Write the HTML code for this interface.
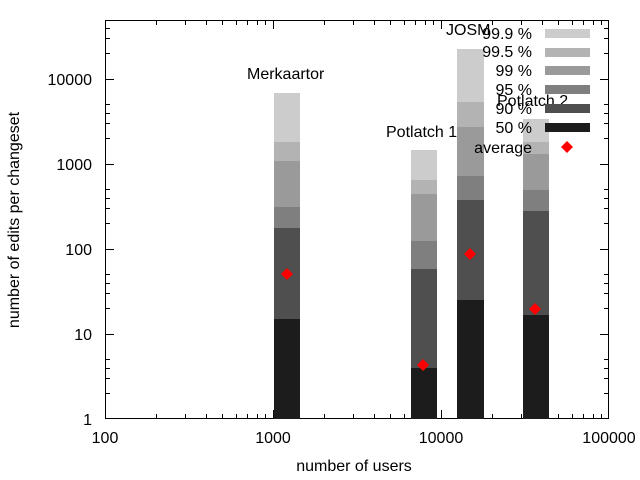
<!DOCTYPE html>
<html><head><style>body{margin:0;background:#fff}svg{display:block}text{font-family:"Liberation Sans",sans-serif;font-size:16px;fill:#000}</style></head><body>
<svg width="640" height="480" viewBox="0 0 640 480">
<g stroke="#000" stroke-width="1" fill="none">
<rect x="105.5" y="20.5" width="503" height="398"/>
<path d="M105 334.5h9M609 334.5h-9M105 249.5h9M609 249.5h-9M105 164.5h9M609 164.5h-9M105 79.5h9M609 79.5h-9
M105 393.5h5M105 378.5h5M105 368.5h5M105 359.5h5M105 308.5h5M105 293.5h5M105 283.5h5M105 274.5h5M105 223.5h5M105 208.5h5M105 198.5h5M105 189.5h5M105 138.5h5M105 123.5h5M105 113.5h5M105 104.5h5M105 53.5h5M105 38.5h5M105 28.5h5
M609 393.5h-5M609 378.5h-5M609 368.5h-5M609 359.5h-5M609 308.5h-5M609 293.5h-5M609 283.5h-5M609 274.5h-5M609 223.5h-5M609 208.5h-5M609 198.5h-5M609 189.5h-5M609 138.5h-5M609 123.5h-5M609 113.5h-5M609 104.5h-5M609 53.5h-5M609 38.5h-5M609 28.5h-5
M273.5 419v-9M273.5 20v9M441.5 419v-9M441.5 20v9
M156.5 419v-5M185.5 419v-5M206.5 419v-5M222.5 419v-5M236.5 419v-5M247.5 419v-5M257.5 419v-5M265.5 419v-5
M324.5 419v-5M353.5 419v-5M374.5 419v-5M390.5 419v-5M404.5 419v-5M415.5 419v-5M425.5 419v-5M433.5 419v-5
M492.5 419v-5M521.5 419v-5M542.5 419v-5M558.5 419v-5M572.5 419v-5M583.5 419v-5M593.5 419v-5M601.5 419v-5
M156.5 20v5M185.5 20v5M206.5 20v5M222.5 20v5M236.5 20v5M247.5 20v5M257.5 20v5M265.5 20v5
M324.5 20v5M353.5 20v5M374.5 20v5M390.5 20v5M404.5 20v5M415.5 20v5M425.5 20v5M433.5 20v5
M492.5 20v5M521.5 20v5M542.5 20v5M558.5 20v5M572.5 20v5M583.5 20v5M593.5 20v5M601.5 20v5"/>
</g>
<g text-anchor="end">
<text x="92" y="425">1</text><text x="92" y="340">10</text><text x="92" y="255">100</text><text x="92" y="170">1000</text><text x="92" y="85">10000</text>
</g>
<g text-anchor="middle">
<text x="105" y="443">100</text><text x="273" y="443">1000</text><text x="441" y="443">10000</text><text x="609" y="443">100000</text>
<text x="354" y="471">number of users</text>
</g>
<text transform="translate(19,220) rotate(-90)" text-anchor="middle">number of edits per changeset</text>
<g>
<rect x="274" y="93" width="26" height="49" fill="#ccc"/><rect x="274" y="142" width="26" height="19" fill="#b3b3b3"/><rect x="274" y="161" width="26" height="46" fill="#9a9a9a"/><rect x="274" y="207" width="26" height="21" fill="#7f7f7f"/><rect x="274" y="228" width="26" height="91" fill="#4f4f4f"/><rect x="274" y="319" width="26" height="100" fill="#1c1c1c"/>
<rect x="411" y="150" width="26" height="30" fill="#ccc"/><rect x="411" y="180" width="26" height="14" fill="#b3b3b3"/><rect x="411" y="194" width="26" height="47" fill="#9a9a9a"/><rect x="411" y="241" width="26" height="28" fill="#7f7f7f"/><rect x="411" y="269" width="26" height="99" fill="#4f4f4f"/><rect x="411" y="368" width="26" height="51" fill="#1c1c1c"/>
<rect x="457" y="49" width="27" height="53" fill="#ccc"/><rect x="457" y="102" width="27" height="25" fill="#b3b3b3"/><rect x="457" y="127" width="27" height="49" fill="#9a9a9a"/><rect x="457" y="176" width="27" height="24" fill="#7f7f7f"/><rect x="457" y="200" width="27" height="100" fill="#4f4f4f"/><rect x="457" y="300" width="27" height="119" fill="#1c1c1c"/>
<rect x="523" y="119" width="26" height="23" fill="#ccc"/><rect x="523" y="142" width="26" height="12" fill="#b3b3b3"/><rect x="523" y="154" width="26" height="36" fill="#9a9a9a"/><rect x="523" y="190" width="26" height="21" fill="#7f7f7f"/><rect x="523" y="211" width="26" height="104" fill="#4f4f4f"/><rect x="523" y="315" width="26" height="104" fill="#1c1c1c"/>
</g>
<g fill="#f00">
<path d="M287 268l6 6-6 6-6-6z"/><path d="M423 359l6 6-6 6-6-6z"/><path d="M470 248l6 6-6 6-6-6z"/><path d="M535 303l6 6-6 6-6-6z"/>
</g>
<text x="247" y="79">Merkaartor</text>
<text x="386" y="137">Potlatch 1</text>
<text x="446" y="35">JOSM</text>
<text x="497" y="106">Potlatch 2</text>
<g text-anchor="end">
<text x="532" y="39">99.9 %</text><text x="532" y="57">99.5 %</text><text x="532" y="76">99 %</text><text x="532" y="95">95 %</text><text x="532" y="114">90 %</text><text x="532" y="133">50 %</text><text x="532" y="153">average</text>
</g>
<rect x="545" y="29" width="45" height="9" fill="#ccc"/><rect x="545" y="48" width="45" height="9" fill="#b3b3b3"/><rect x="545" y="66" width="45" height="9" fill="#9a9a9a"/><rect x="545" y="85" width="45" height="9" fill="#7f7f7f"/><rect x="545" y="104" width="45" height="9" fill="#4f4f4f"/><rect x="545" y="123" width="45" height="9" fill="#1c1c1c"/>
<path d="M567 141l6 6-6 6-6-6z" fill="#f00"/>
</svg>
</body></html>
